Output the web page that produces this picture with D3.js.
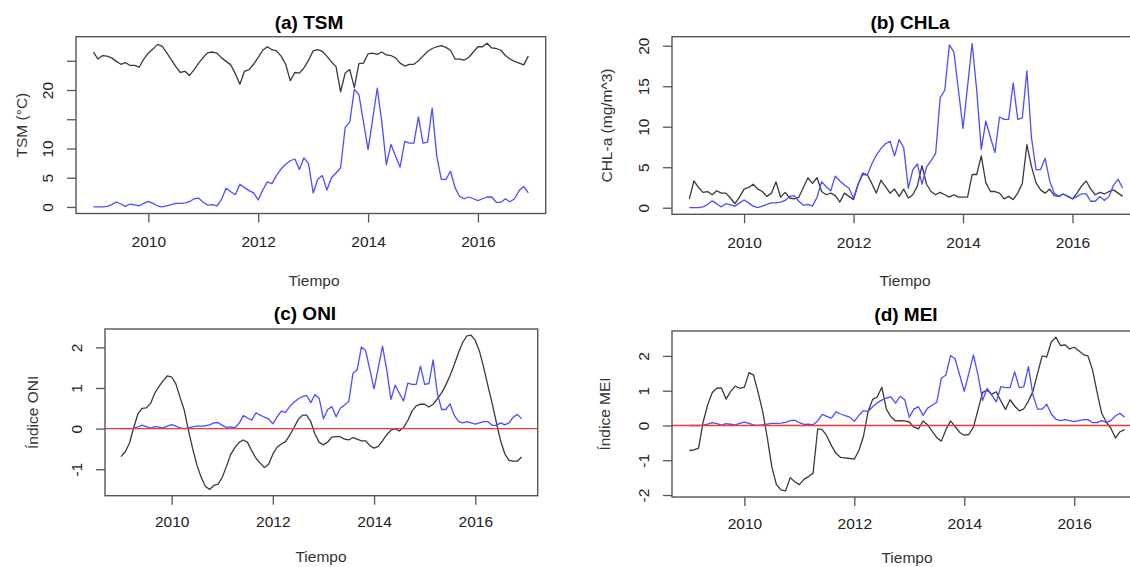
<!DOCTYPE html>
<html>
<head>
<meta charset="utf-8">
<script src="https://d3js.org/d3.v7.min.js"></script>
<style>
  body { margin: 0; background: #fff; }
  svg { display: block; font-family: "Liberation Sans", Arial, sans-serif; }
  .caja { fill: none; stroke: #555; stroke-width: 1.4; }
  .tick line { stroke: #555; stroke-width: 1.3; }
  .tick text { fill: #222; font-size: 15.5px; }
  .titulo { font-weight: bold; font-size: 19px; fill: #000; text-anchor: middle; }
  .etiqueta { font-size: 15.5px; fill: #333; text-anchor: middle; }
  .negra { fill: none; stroke: #3a3a3a; stroke-width: 1.3; stroke-linejoin: round; }
  .azul { fill: none; stroke: #4d4dff; stroke-width: 1.3; stroke-linejoin: round; }
  .cero { stroke: #ff3535; stroke-width: 1.3; }
</style>
</head>
<body>
<svg id="fig" width="1130" height="567"></svg>
<script>
// series mensuales, enero 2009 - diciembre 2016
const inicio = 2009;

const tsm = [
  26.5, 25.3, 25.9, 25.8, 25.5, 24.9, 24.4, 24.7, 24.2, 24.2, 23.9, 25.3,
  26.3, 27.0, 27.8, 27.5, 26.4, 25.2, 24.0, 23.0, 23.2, 22.5, 23.5, 24.6,
  25.6, 26.4, 26.5, 26.3, 25.5, 24.9, 24.3, 22.8, 21.0, 23.2, 23.5, 24.4,
  25.6, 26.8, 27.4, 26.9, 26.7, 25.8, 24.4, 21.6, 23.0, 22.9, 23.8, 25.1,
  26.7, 26.9, 26.6, 25.8, 24.8, 24.0, 19.7, 22.9, 23.5, 20.4, 24.5, 24.6,
  26.2, 26.3, 26.1, 26.5, 26.0, 25.9, 25.5, 24.6, 24.1, 24.4, 24.4, 25.0,
  25.8, 26.6, 27.1, 27.4, 27.6, 27.3, 26.8, 25.3, 25.3, 25.1, 25.6, 26.5,
  27.4, 27.4, 28.0, 27.2, 27.1, 26.8, 25.9, 25.3, 24.9, 24.6, 24.3, 25.8
];

const chla = [
  0, 0, 0, 0.1, 0.4, 0.85, 0.5, 0.1, 0.5, 0.35, 0.2, 0.6,
  0.95, 0.6, 0.2, 0, 0.2, 0.4, 0.6, 0.6, 0.7, 0.9, 1.4, 1.5,
  0.8, 0.3, 0.4, 0.2, 1.3, 3.2, 2.6, 2.1, 3.9, 3.3, 2.8, 2.4,
  1.2, 2.9, 4.3, 4.0, 5.4, 6.5, 7.3, 7.9, 8.2, 6.4, 8.4, 7.4,
  2.4, 4.7, 5.4, 2.9, 5.0, 5.8, 6.7, 13.6, 14.5, 20.1, 19.2, 14.5,
  9.8, 15.0, 20.3, 14.5, 7.2, 10.7, 8.7, 6.8, 11.2, 10.9, 10.9, 15.4,
  10.9, 11.1, 16.9, 8.7, 4.7, 4.7, 6.1, 3.3, 1.8, 1.4, 1.7, 1.4,
  1.1, 1.4, 1.7, 1.7, 0.8, 0.8, 1.4, 0.9, 1.4, 2.8, 3.5, 2.4
];

const chlInsitu = [
  1.1, 3.3, 2.5, 1.9, 2.0, 1.6, 2.1, 1.8, 1.8, 1.2, 0.5, 1.3,
  2.3, 2.5, 2.9, 2.3, 2.0, 1.4, 1.8, 3.2, 1.3, 1.9, 1.2, 1.1,
  1.3, 2.5, 3.7, 3.0, 3.7, 2.0, 1.6, 1.8, 1.5, 0.7, 1.8, 1.4,
  1.0, 2.9, 4.1, 4.1, 3.0, 1.8, 3.4, 2.6, 1.8, 2.3, 1.4, 2.3,
  1.2, 1.6, 2.7, 5.2, 2.9, 2.0, 1.6, 1.9, 1.6, 1.3, 1.6, 1.3,
  1.3, 1.3, 4.1, 4.1, 6.4, 3.1, 2.0, 2.0, 1.8, 1.1, 1.4, 1.0,
  1.8, 3.0, 7.8, 5.1, 3.1, 2.2, 1.8, 2.3, 1.5, 1.4, 1.7, 1.4,
  1.1, 1.8, 2.7, 3.3, 2.3, 1.6, 1.9, 1.7, 2.0, 2.2, 1.8, 1.4
];

const oni = [
  -0.69, -0.57, -0.36, 0.02, 0.36, 0.5, 0.51, 0.62, 0.87, 1.04, 1.18, 1.3,
  1.27, 1.1, 0.77, 0.45, -0.05, -0.5, -0.9, -1.2, -1.42, -1.5, -1.4, -1.37,
  -1.2, -0.93, -0.64, -0.47, -0.34, -0.28, -0.34, -0.55, -0.73, -0.85, -0.96, -0.88,
  -0.63, -0.46, -0.38, -0.32, -0.16, 0.02, 0.22, 0.33, 0.33, 0.17, -0.14, -0.34,
  -0.4, -0.33, -0.21, -0.2, -0.2, -0.26, -0.28, -0.22, -0.26, -0.3, -0.3, -0.42,
  -0.48, -0.44, -0.3, -0.15, -0.04, 0.0, -0.06, 0.03, 0.2, 0.43, 0.56, 0.6,
  0.6, 0.53, 0.6, 0.73, 0.88, 1.07, 1.3, 1.57, 1.86, 2.12, 2.28, 2.3,
  2.17, 1.9, 1.5, 1.05, 0.62, 0.15, -0.3, -0.62, -0.78, -0.8, -0.8, -0.7
];

const mei = [
  -0.72, -0.7, -0.65, 0.1, 0.6, 0.95, 1.07, 1.08, 0.76, 0.98, 1.13, 1.07,
  1.1, 1.52, 1.45, 0.95, 0.4, -0.35, -1.2, -1.7, -1.85, -1.88, -1.5, -1.62,
  -1.7, -1.55, -1.47, -1.37, -0.1, -0.12, -0.3, -0.58, -0.8, -0.92, -0.93, -0.95,
  -0.97, -0.72, -0.31, 0.4, 0.75, 0.82, 1.1, 0.47, 0.25, 0.13, 0.14, 0.13,
  0.1, -0.05, -0.1, 0.13, 0.02, -0.17, -0.35, -0.45, -0.12, 0.13, -0.03, -0.2,
  -0.28, -0.26, -0.05, 0.45, 0.95, 1.01, 0.9, 0.97, 0.7, 0.46, 0.74, 0.56,
  0.42, 0.48, 0.7, 0.98, 1.5, 2.0, 1.97, 2.4, 2.54, 2.3, 2.32, 2.2,
  2.25, 2.15, 2.04, 2.0, 1.6, 0.95, 0.35, 0.1, -0.08, -0.36, -0.18, -0.12
];

const xTicks = [2010, 2012, 2014, 2016];
const ticksTsm = [0, 5, 10, 15, 20, 25];
const etiquetasTsm = [0, 5, 10, 20];   // R omite 15 y 25 por solapamiento
const ticksChl = [0, 5, 10, 15, 20];
const ticksOni = [-1, 0, 1, 2];
const ticksMei = [-2, -1, 0, 1, 2];

const meses = d3.range(tsm.length).map(i => inicio + i / 12);

// la azul en ONI/MEI es CHLa/10
const chla10 = chla.map(v => v / 10);

const paneles = [
  { titulo: "(a) TSM", ylab: "TSM (\u00B0C)", negra: tsm, azul: chla, cero: false,
    yt: ticksTsm, yl: etiquetasTsm,
    l: 76, r: 545.7, t: 36.7, b: 213.5, tx: 309, ty: 29, labx: 22, xlabx: 314, xlaby: 286, tickdy: 28.5 },
  { titulo: "(b) CHLa", ylab: "CHL-a (mg/m^3)", negra: chlInsitu, azul: chla, cero: false,
    yt: ticksChl, yl: ticksChl,
    l: 672, r: 1140, t: 36.7, b: 214.3, tx: 910, ty: 29, labx: 607, xlabx: 905, xlaby: 286, tickdy: 28 },
  { titulo: "(c) ONI", ylab: "\u00CDndice ONI", negra: oni, azul: chla10, cero: true,
    yt: ticksOni, yl: ticksOni,
    l: 105, r: 537.7, t: 329, b: 495.7, tx: 305, ty: 320, labx: 33, xlabx: 321, xlaby: 562, tickdy: 26 },
  { titulo: "(d) MEI", ylab: "\u00CDndice MEI", negra: mei, azul: chla10, cero: true,
    yt: ticksMei, yl: ticksMei,
    l: 672, r: 1142, t: 331, b: 497, tx: 906, ty: 321, labx: 605, xlabx: 907, xlaby: 563, tickdy: 26.3 }
];

// rango con 4% extra a cada lado, como R
function rangoR(vals) {
  const [a, b] = d3.extent(vals);
  const p = (b - a) * 0.04;
  return [a - p, b + p];
}

const svg = d3.select("#fig");

paneles.forEach(p => {
  const g = svg.append("g");

  const x = d3.scaleLinear().domain(rangoR(meses)).range([p.l, p.r]);
  const y = d3.scaleLinear().domain(rangoR(p.negra.concat(p.azul))).range([p.b, p.t]);

  const linea = serie => d3.line()
    .x((d, i) => x(meses[i]))
    .y(d => y(d))(serie);

  g.append("path").attr("class", "negra").attr("d", linea(p.negra));
  g.append("path").attr("class", "azul").attr("d", linea(p.azul));

  if (p.cero) {
    g.append("line").attr("class", "cero")
      .attr("x1", p.l).attr("x2", p.r)
      .attr("y1", y(0)).attr("y2", y(0));
  }

  // eje x
  const ejeX = g.append("g")
    .attr("transform", `translate(0,${p.b})`)
    .call(d3.axisBottom(x).tickValues(xTicks).tickSize(9).tickFormat(d3.format("d")));
  ejeX.select(".domain").remove();
  ejeX.selectAll(".tick text").attr("y", p.tickdy).attr("dy", "0.35em");

  // eje y con etiquetas giradas
  const ejeY = g.append("g")
    .attr("transform", `translate(${p.l},0)`)
    .call(d3.axisLeft(y).tickValues(p.yt).tickSize(9)
      .tickFormat(d => p.yl.includes(d) ? String(d) : ""));
  ejeY.select(".domain").remove();
  ejeY.selectAll(".tick text")
    .attr("x", null).attr("dy", "0.35em")
    .attr("text-anchor", "middle")
    .attr("transform", "translate(-28,0) rotate(-90)");

  g.append("rect").attr("class", "caja")
    .attr("x", p.l).attr("y", p.t)
    .attr("width", p.r - p.l).attr("height", p.b - p.t);

  g.append("text").attr("class", "titulo")
    .attr("x", p.tx).attr("y", p.ty).text(p.titulo);

  g.append("text").attr("class", "etiqueta")
    .attr("x", p.xlabx).attr("y", p.xlaby).text("Tiempo");

  g.append("text").attr("class", "etiqueta")
    .attr("transform", `translate(${p.labx},${(p.t + p.b) / 2}) rotate(-90)`)
    .attr("dy", "0.35em")
    .text(p.ylab);
});
</script>
</body>
</html>
